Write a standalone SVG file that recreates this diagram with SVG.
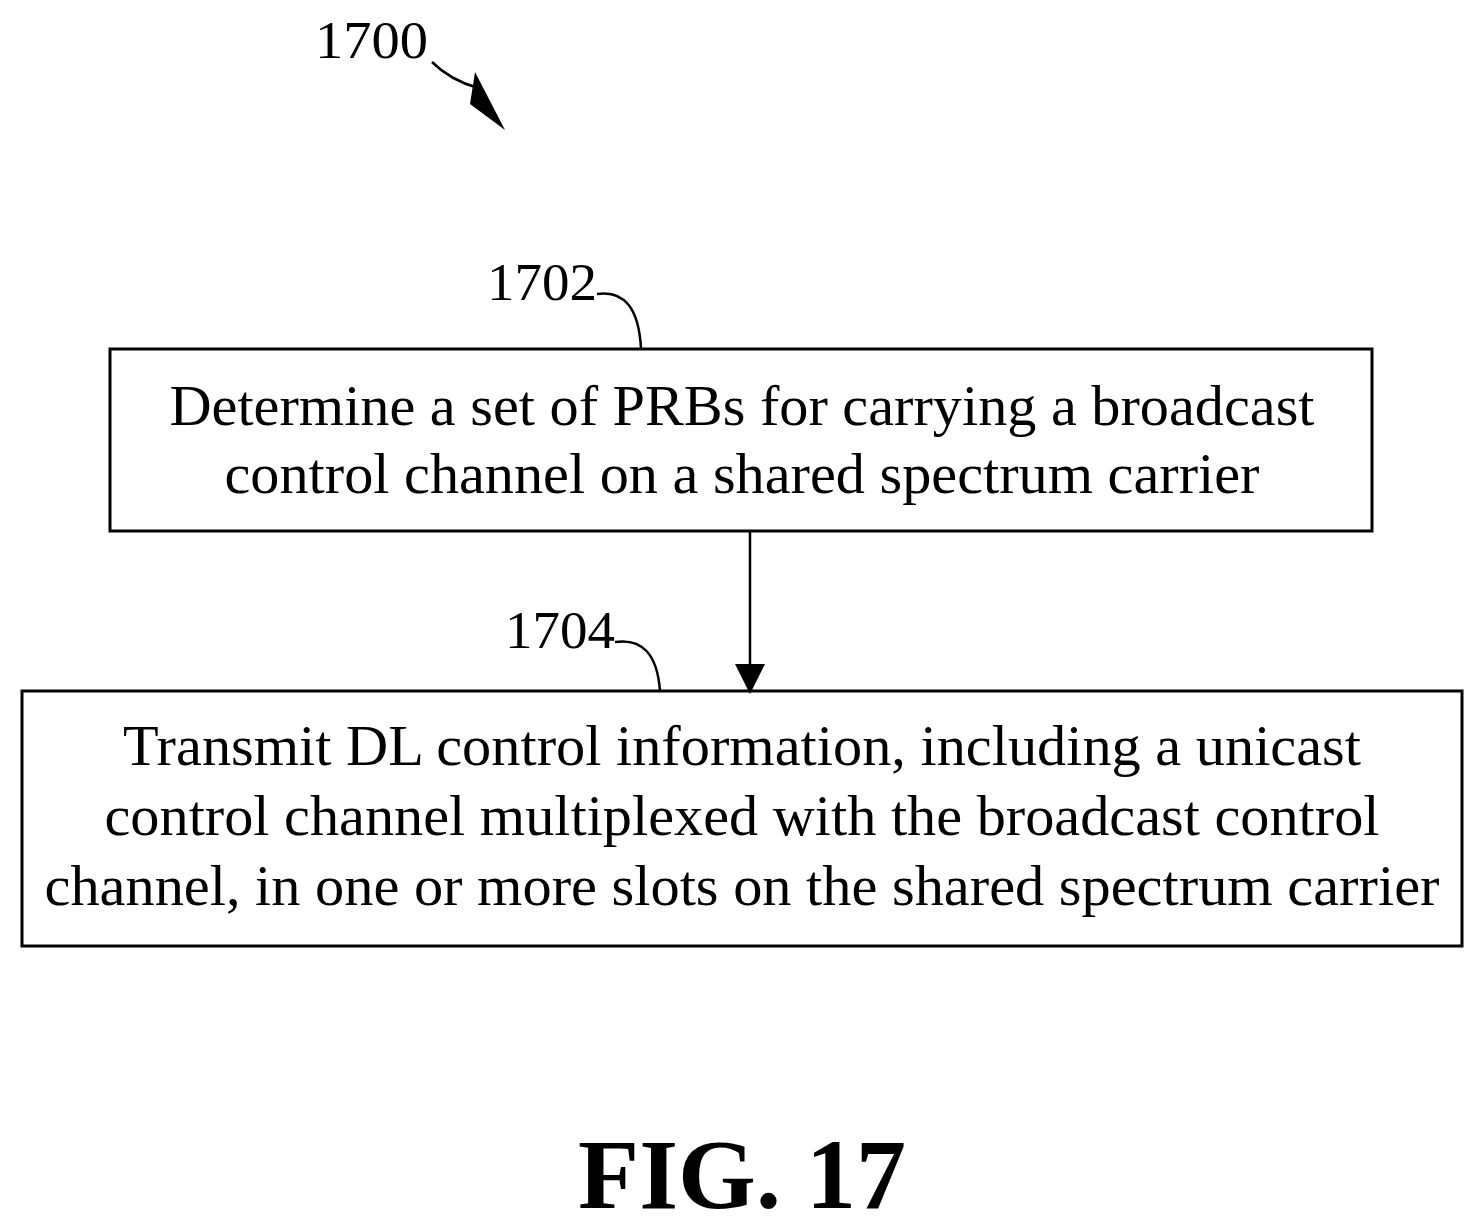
<svg xmlns="http://www.w3.org/2000/svg" width="1484" height="1231" viewBox="0 0 1484 1231">
<style>
.t{font-family:"Liberation Serif",serif;font-size:56px;fill:#000;text-anchor:middle}
.l{font-family:"Liberation Serif",serif;font-size:52px;fill:#000}
.b{fill:#fff;stroke:#000;stroke-width:3}
.c{fill:none;stroke:#000;stroke-width:2.5}
</style>
<defs>
<marker id="ah2" viewBox="0 0 10 10" refX="9" refY="5" markerWidth="30" markerHeight="36" orient="auto" markerUnits="userSpaceOnUse"><path d="M0,0L10,5L0,10z"/></marker></defs>
<rect width="1484" height="1231" fill="#fff"/>
<g id="label1700"><text class="l" x="315" y="58" textLength="113" lengthAdjust="spacingAndGlyphs">1700</text>
<path class="c" d="M432,62 Q450,80 478,88" /><path d="M475,72 L505,130 L470,104 Z"/></g>
<g id="n1702"><rect class="b" x="110" y="349" width="1262" height="182"/>
<text class="t" x="742" y="425" textLength="1145" lengthAdjust="spacingAndGlyphs">Determine a set of PRBs for carrying a broadcast</text>
<text class="t" x="742" y="493" textLength="1035" lengthAdjust="spacingAndGlyphs">control channel on a shared spectrum carrier</text>
<text class="l" x="487" y="300" textLength="110" lengthAdjust="spacingAndGlyphs">1702</text>
<path class="c" d="M597,294 Q638,288 641,349"/></g>
<g id="n1704"><rect class="b" x="22" y="691" width="1440" height="255"/>
<text class="t" x="742" y="765" textLength="1238" lengthAdjust="spacingAndGlyphs">Transmit DL control information, including a unicast</text>
<text class="t" x="742" y="835" textLength="1275" lengthAdjust="spacingAndGlyphs">control channel multiplexed with the broadcast control</text>
<text class="t" x="742" y="905" textLength="1395" lengthAdjust="spacingAndGlyphs">channel, in one or more slots on the shared spectrum carrier</text>
<text class="l" x="505" y="648" textLength="110" lengthAdjust="spacingAndGlyphs">1704</text>
<path class="c" d="M615,642 Q656,636 660,691"/></g>
<g id="connectors"><line x1="750" y1="531" x2="750" y2="691" stroke="#000" stroke-width="2.5" marker-end="url(#ah2)"/></g>
<text x="742" y="1208" style="font-family:'Liberation Serif',serif;font-size:100px;font-weight:bold;text-anchor:middle">FIG. 17</text>
</svg>
